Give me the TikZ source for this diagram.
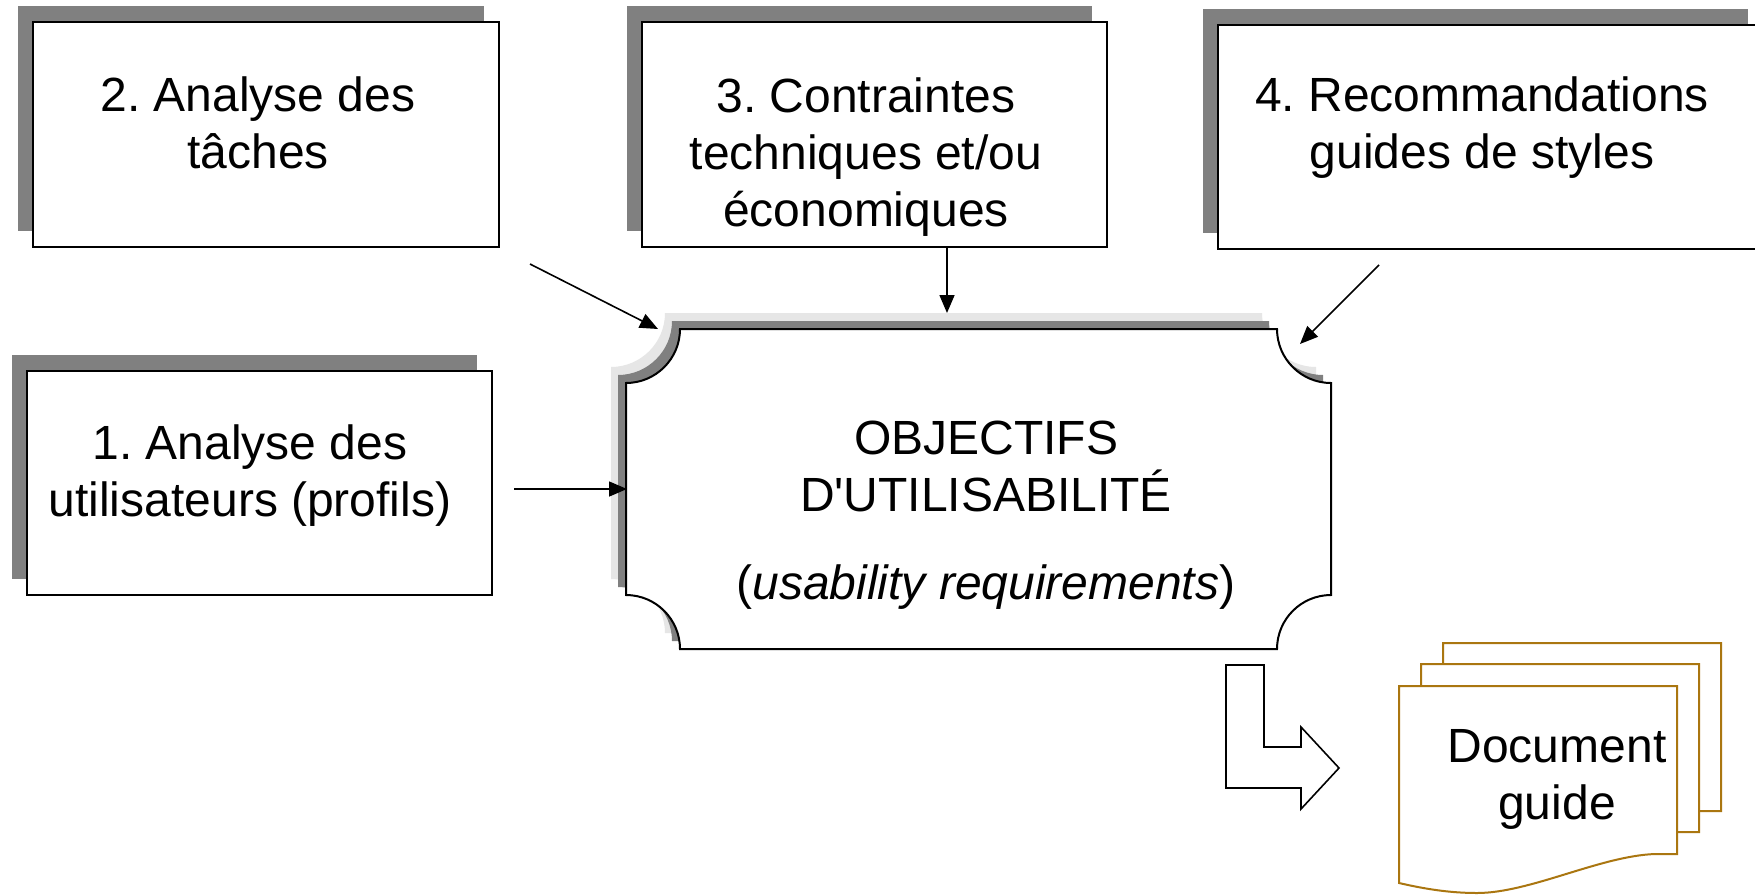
\documentclass[tikz,border=0pt]{standalone}
\usepackage{fontspec}
\setmainfont{Liberation Sans}[Ligatures=TeXOff]
\usetikzlibrary{arrows.meta,shadows}
\frenchspacing
\definecolor{shdark}{RGB}{128,128,128}
\definecolor{shlight}{RGB}{230,230,230}
\definecolor{docgold}{RGB}{170,118,16}
\newcommand\mainshape{(680,329) -- (1277,329) .. controls (1277,358.8) and (1301.2,383) .. (1331,383) -- (1331,595) .. controls (1301.2,595) and (1277,619.2) .. (1277,649) -- (680,649) .. controls (680,619.2) and (655.8,595) .. (626,595) -- (626,383) .. controls (655.8,383) and (680,358.8) .. (680,329) -- cycle}
\newcommand\docshape{(1399,686) -- (1677,686) -- (1677,854) -- (1655,854) .. controls (1600,856) and (1530,893) .. (1477,893) .. controls (1450,893) and (1425,889) .. (1399,883) -- cycle}
\begin{document}
\begin{tikzpicture}[x=0.5pt,y=-0.5pt,
  txt/.style={font=\fontsize{24}{28.5}\selectfont, align=center, inner sep=0pt},
  boxframe/.style={draw=black, line width=1pt, fill=white, inner sep=0pt,
    drop shadow={shadow xshift=-7.5pt, shadow yshift=8pt, fill=shdark, opacity=1}},
  conn/.style={line width=0.8pt, -{Triangle[length=9pt,width=7.5pt]}},
  page/.style={draw=docgold, line width=1pt, fill=white}]
\clip (0,0) rectangle (1755,895);
\fill[white] (0,0) rectangle (1755,895);

% source boxes
\node[boxframe, minimum width=232.5pt, minimum height=112pt] (b1) at (259.5,483) {};
\node[boxframe, minimum width=233pt, minimum height=112.5pt] (b2) at (266,134.5) {};
\node[boxframe, minimum width=232.5pt, minimum height=112.5pt] (b3) at (874.5,134.5) {};
\node[boxframe, minimum width=272.5pt, minimum height=112pt] (b4) at (1490.5,137) {};

\node[txt] (t1) at (250,476) {1. Analyse des\\utilisateurs (profils)};
\node[txt] (t2) at (258,123) {2. Analyse des\\tâches};
\node[txt] (t3) at (866,157) {3. Contraintes\\techniques et/ou\\économiques};
\node[txt] (t4) at (1482,128) {4. Recommandations\\guides de styles};

% main shape with shadows
\begin{scope}[shift={(-15,-16)}]
  \fill[shlight] \mainshape;
\end{scope}
\begin{scope}[shift={(-8,-8)}]
  \fill[shdark] \mainshape;
\end{scope}
\draw[line width=1pt, fill=white] \mainshape;
\node[txt] (obj) at (986,515) {OBJECTIFS\\D'UTILISABILITÉ\\[15.5pt](\textit{usability requirements})};

% connectors
\coordinate (s1) at (514,489);  \coordinate (e1) at (627,489);
\coordinate (s2) at (530,264);  \coordinate (e2) at (658,329);
\coordinate (s3) at (947,247);  \coordinate (e3) at (947,313);
\coordinate (s4) at (1379,265); \coordinate (e4) at (1300,344);
\draw[conn] (s1) -- (e1);
\draw[conn] (s2) -- (e2);
\draw[conn] (s3) -- (e3);
\draw[conn] (s4) -- (e4);

% bent block arrow
\draw[line width=0.8pt, fill=white] (1226,665) -- (1264,665) -- (1264,747) -- (1301,747) -- (1301,727) -- (1339,768) -- (1301,809) -- (1301,788) -- (1226,788) -- cycle;

% document stack
\begin{scope}[shift={(44,-43)}]
  \draw[page] \docshape;
\end{scope}
\begin{scope}[shift={(22,-22)}]
  \draw[page] \docshape;
\end{scope}
\draw[page] \docshape;
\node[txt] (doc) at (1557,779) {Document\\guide};
\end{tikzpicture}
\end{document}
